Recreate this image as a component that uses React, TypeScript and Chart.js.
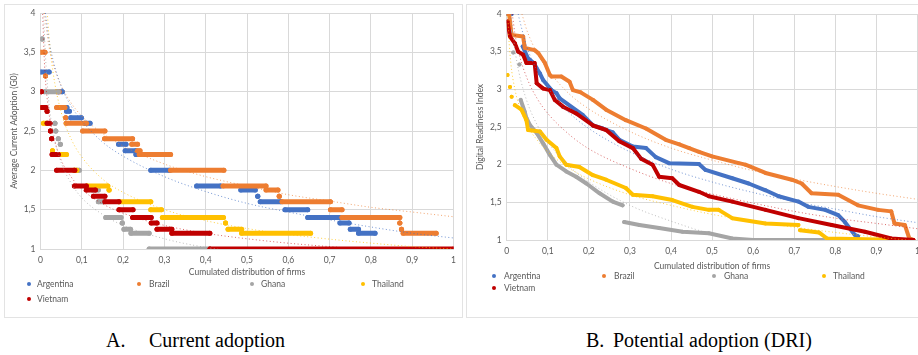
import React, { useEffect, useRef } from 'react';
import { Chart, registerables } from 'chart.js';

Chart.register(...registerables);

// ---------- labels ----------
const COUNTRIES = ['Argentina', 'Brazil', 'Ghana', 'Thailand', 'Vietnam'];
const COLORS = ['#4472C4', '#ED7D31', '#A5A5A5', '#FFC000', '#C00000'];
const TREND_COLORS = ['rgba(68,114,196,0.75)', 'rgba(237,125,49,0.7)', 'rgba(165,165,165,0.75)', 'rgba(255,192,0,0.75)', 'rgba(192,0,0,0.6)'];
const X_AXIS_TITLE = 'Cumulated distribution of firms';
const A_Y_TITLE = 'Average Current Adoption (G0)';
const B_Y_TITLE = 'Digital Readiness Index';
const CAPTION_A = ['A.', 'Current adoption'];
const CAPTION_B = ['B.', 'Potential adoption (DRI)'];

// ---------- axis ranges ----------
const X_MIN = 0;
const X_MAX = 1;
const X_STEP = 0.1;
const Y_MIN = 1;
const Y_MAX = 4;
const Y_STEP = 0.5;

// ---------- Panel A: runs of firms [cum. share start, cum. share end, value] ----------
const A_ARGENTINA: number[][] = [
  [0, 0.021, 3.25], [0.043, 0.053, 3.0], [0.06, 0.064, 2.8], [0.063, 0.07, 2.75],
  [0.073, 0.099, 2.67], [0.107, 0.12, 2.6], [0.189, 0.207, 2.33], [0.205, 0.231, 2.25],
  [0.231, 0.238, 2.2], [0.267, 0.312, 2.0], [0.378, 0.436, 1.8], [0.485, 0.52, 1.75],
  [0.526, 0.526, 1.67], [0.532, 0.582, 1.6], [0.592, 0.647, 1.5], [0.647, 0.724, 1.4],
  [0.725, 0.747, 1.33], [0.75, 0.77, 1.25], [0.77, 0.81, 1.2],
];
const A_BRAZIL: number[][] = [
  [0, 0.011, 3.5], [0.012, 0.012, 3.2], [0.039, 0.045, 3.0], [0, 0.004, 2.8],
  [0.039, 0.059, 2.8], [0.061, 0.061, 2.67], [0.062, 0.111, 2.6], [0.102, 0.156, 2.5],
  [0.155, 0.223, 2.4], [0.221, 0.235, 2.33], [0.235, 0.241, 2.25], [0.239, 0.315, 2.2],
  [0.315, 0.444, 2.0], [0.442, 0.546, 1.8], [0.546, 0.575, 1.75], [0.578, 0.578, 1.67],
  [0.585, 0.702, 1.6], [0.702, 0.73, 1.5], [0.73, 0.87, 1.4], [0.87, 0.87, 1.33],
  [0.874, 0.874, 1.25], [0.878, 0.958, 1.2],
];
const A_GHANA: number[][] = [
  [0.004, 0.004, 3.67], [0.009, 0.043, 3.0], [0.035, 0.035, 2.6], [0.037, 0.037, 2.5],
  [0.043, 0.043, 2.4], [0.048, 0.048, 2.33], [0.088, 0.094, 2.0], [0.126, 0.14, 1.75],
  [0.14, 0.152, 1.6], [0.158, 0.195, 1.4], [0.198, 0.198, 1.33], [0.202, 0.218, 1.25],
  [0.219, 0.263, 1.2], [0.263, 0.41, 1.0],
];
const A_THAILAND: number[][] = [
  [0.007, 0.015, 2.6], [0.029, 0.029, 2.25], [0.043, 0.063, 2.2], [0.081, 0.088, 2.0],
  [0.113, 0.163, 1.8], [0.166, 0.166, 1.75], [0.19, 0.267, 1.6], [0.267, 0.293, 1.5],
  [0.295, 0.443, 1.4], [0.448, 0.448, 1.33], [0.454, 0.487, 1.25], [0.487, 0.654, 1.2],
];
const A_VIETNAM: number[][] = [
  [0.002, 0.002, 3.0], [0.003, 0.013, 2.8], [0.016, 0.016, 2.75], [0.016, 0.023, 2.6],
  [0.024, 0.024, 2.5], [0.027, 0.027, 2.4], [0.028, 0.043, 2.2], [0.039, 0.083, 2.0],
  [0.082, 0.111, 1.8], [0.111, 0.133, 1.75], [0.128, 0.156, 1.67], [0.156, 0.19, 1.6],
  [0.19, 0.224, 1.5], [0.223, 0.268, 1.4], [0.268, 0.282, 1.33], [0.282, 0.318, 1.25],
  [0.318, 0.41, 1.2], [0.41, 1.0, 1.0],
];

// ---------- Panel A: trend lines [x, y] ----------
const A_TREND_ARGENTINA: number[][] = [
  [0.012, 4.0], [0.02, 3.67], [0.03, 3.41], [0.05, 3.07], [0.075, 2.81], [0.1, 2.63],
  [0.15, 2.36], [0.2, 2.18], [0.3, 1.92], [0.4, 1.73], [0.5, 1.58], [0.6, 1.47],
  [0.7, 1.37], [0.8, 1.28], [0.9, 1.2], [1.0, 1.14],
];
const A_TREND_BRAZIL: number[][] = [
  [0.0096, 4.0], [0.02, 3.59], [0.03, 3.36], [0.05, 3.08], [0.075, 2.85], [0.1, 2.69],
  [0.15, 2.47], [0.2, 2.31], [0.3, 2.08], [0.4, 1.92], [0.5, 1.8], [0.6, 1.69],
  [0.7, 1.61], [0.8, 1.53], [0.9, 1.47], [1.0, 1.41],
];
const A_TREND_GHANA: number[][] = [
  [0.0078, 4.0], [0.01, 3.67], [0.02, 2.88], [0.03, 2.51], [0.05, 2.1], [0.075, 1.83],
  [0.1, 1.65], [0.15, 1.44], [0.2, 1.3], [0.3, 1.13], [0.4, 1.02], [0.5, 0.95],
];
const A_TREND_THAILAND: number[][] = [
  [0.017, 3.96], [0.02, 3.74], [0.03, 3.26], [0.05, 2.74], [0.075, 2.39], [0.1, 2.17],
  [0.15, 1.89], [0.2, 1.72], [0.3, 1.5], [0.4, 1.36], [0.5, 1.26], [0.6, 1.185],
  [0.7, 1.125], [0.8, 1.075], [0.9, 1.03], [1.0, 1.0],
];
const A_TREND_VIETNAM: number[][] = [
  [0.005, 4.03], [0.01, 3.32], [0.02, 2.75], [0.03, 2.46], [0.05, 2.13], [0.075, 1.91],
  [0.1, 1.76], [0.15, 1.575], [0.2, 1.455], [0.3, 1.3], [0.4, 1.2], [0.5, 1.13],
  [0.6, 1.074], [0.7, 1.03], [0.8, 0.99],
];

// ---------- Panel B: firm curves [x, y] (null = gap) ----------
const B_ARGENTINA: (number[] | null)[] = [
  [0.002, 4.0], [0.012, 4.0], null,
  [0.039, 3.57], [0.052, 3.41], [0.066, 3.35], [0.073, 3.28], [0.081, 3.21], [0.089, 3.12],
  [0.109, 2.99], [0.121, 2.95], [0.129, 2.88], [0.185, 2.66], [0.21, 2.52], [0.234, 2.48],
  [0.258, 2.43], [0.274, 2.33], [0.307, 2.24], [0.339, 2.22], [0.363, 2.1], [0.395, 2.02],
  [0.468, 2.01], [0.484, 1.93], [0.549, 1.82], [0.589, 1.75], [0.63, 1.66], [0.662, 1.58],
  [0.71, 1.51], [0.734, 1.44], [0.775, 1.4], [0.807, 1.33], [0.823, 1.24], [0.847, 1.07],
  [0.855, 1.05],
];
const B_BRAZIL: (number[] | null)[] = [
  [0, 4.0], [0.006, 4.0], [0.01, 3.8], [0.012, 3.72], [0.04, 3.7], [0.044, 3.55], [0.068, 3.52],
  [0.077, 3.48], [0.093, 3.35], [0.105, 3.19], [0.109, 3.17], [0.133, 3.17], [0.153, 3.1],
  [0.161, 2.99], [0.18, 2.96], [0.21, 2.86], [0.242, 2.73], [0.29, 2.59], [0.339, 2.48],
  [0.387, 2.33], [0.42, 2.27], [0.444, 2.22], [0.468, 2.17], [0.5, 2.11], [0.565, 2.02],
  [0.581, 2.0], [0.63, 1.89], [0.694, 1.8], [0.718, 1.75], [0.742, 1.62], [0.807, 1.6],
  [0.855, 1.46], [0.904, 1.4], [0.936, 1.38], [0.944, 1.22], [0.969, 1.2], [0.98, 1.02],
  [0.99, 1.0],
];
const B_GHANA: (number[] | null)[] = [
  [0.008, 3.77], null, [0.016, 3.49], null, [0.031, 3.33], null,
  [0.034, 2.86], [0.044, 2.7], [0.048, 2.62], [0.056, 2.53], [0.073, 2.42], [0.089, 2.28],
  [0.105, 2.13], [0.121, 2.0], [0.145, 1.91], [0.169, 1.84], [0.194, 1.75], [0.226, 1.62],
  [0.258, 1.51], [0.282, 1.46], null,
  [0.286, 1.24], [0.323, 1.2], [0.371, 1.16], [0.428, 1.11], [0.492, 1.09], [0.549, 1.02],
  [0.6, 1.0], [0.77, 1.0],
];
const B_THAILAND: (number[] | null)[] = [
  [0.002, 3.19], null, [0.008, 3.03], null, [0.012, 2.9], null,
  [0.02, 2.79], [0.036, 2.73], [0.048, 2.59], [0.052, 2.46], [0.081, 2.44], [0.097, 2.33],
  [0.121, 2.22], [0.129, 2.11], [0.145, 2.0], [0.177, 1.97], [0.21, 1.86], [0.242, 1.8],
  [0.29, 1.69], [0.307, 1.6], [0.355, 1.58], [0.403, 1.53], [0.452, 1.44], [0.492, 1.4],
  [0.516, 1.4], [0.549, 1.29], [0.63, 1.22], [0.71, 1.2], null,
  [0.714, 1.13], [0.76, 1.1], [0.78, 1.02], [0.97, 1.0],
];
const B_VIETNAM: (number[] | null)[] = [
  [0.002, 3.9], [0.008, 3.7], [0.02, 3.61], [0.028, 3.5], [0.04, 3.46], [0.048, 3.35],
  [0.068, 3.35], [0.073, 3.08], [0.089, 3.01], [0.105, 2.99], [0.117, 2.86], [0.137, 2.77],
  [0.169, 2.68], [0.21, 2.52], [0.242, 2.46], [0.274, 2.31], [0.307, 2.22], [0.327, 2.08],
  [0.355, 2.0], [0.371, 1.84], [0.403, 1.82], [0.42, 1.73], [0.468, 1.64], [0.492, 1.58],
  [0.549, 1.51], [0.63, 1.4], [0.71, 1.29], [0.791, 1.2], [0.872, 1.11], [0.936, 1.02],
  [0.99, 1.0],
];

// ---------- Panel B: trend lines [x, y] ----------
const B_TREND_ARGENTINA: number[][] = [
  [0.028, 4.0], [0.03, 3.95], [0.05, 3.55], [0.075, 3.24], [0.1, 3.02], [0.15, 2.7],
  [0.2, 2.48], [0.3, 2.17], [0.4, 1.94], [0.5, 1.77], [0.6, 1.63], [0.7, 1.51],
  [0.8, 1.41], [0.9, 1.31], [1.0, 1.23],
];
const B_TREND_BRAZIL: number[][] = [
  [0.037, 4.0], [0.05, 3.77], [0.075, 3.47], [0.1, 3.26], [0.15, 2.95], [0.2, 2.74],
  [0.3, 2.44], [0.4, 2.22], [0.5, 2.06], [0.6, 1.92], [0.7, 1.81], [0.8, 1.71],
  [0.9, 1.62], [1.0, 1.54],
];
const B_TREND_GHANA: number[][] = [
  [0.011, 3.99], [0.02, 3.53], [0.03, 3.22], [0.05, 2.83], [0.075, 2.52], [0.1, 2.3],
  [0.15, 1.99], [0.2, 1.77], [0.3, 1.46], [0.4, 1.25], [0.5, 1.075], [0.6, 0.94],
];
const B_TREND_THAILAND: number[][] = [
  [0.003, 3.97], [0.005, 3.71], [0.01, 3.35], [0.02, 3.0], [0.03, 2.79], [0.05, 2.52],
  [0.075, 2.32], [0.1, 2.17], [0.15, 1.96], [0.2, 1.81], [0.3, 1.6], [0.4, 1.46],
  [0.5, 1.34], [0.6, 1.25], [0.7, 1.17], [0.8, 1.1], [0.9, 1.04], [1.0, 0.985],
];
const B_TREND_VIETNAM: number[][] = [
  [0.0137, 4.0], [0.02, 3.74], [0.03, 3.47], [0.05, 3.14], [0.075, 2.87], [0.1, 2.68],
  [0.15, 2.41], [0.2, 2.21], [0.3, 1.95], [0.4, 1.75], [0.5, 1.61], [0.6, 1.49],
  [0.7, 1.38], [0.8, 1.29], [0.9, 1.22], [1.0, 1.15],
];

// ---------- helpers ----------
const TEXT_COLOR = '#595959';
const GRID_COLOR = '#d9d9d9';
const UI_FONT = 'Lato, "Noto Sans", sans-serif';

function fmt(v: number | string) {
  const r = Math.round(Number(v) * 10) / 10;
  return String(r).replace('.', ',');
}

function segsToData(segs: number[][]) {
  const d: { x: number; y: number | null }[] = [];
  segs.forEach(([a, b, v]) => {
    d.push({ x: a, y: v });
    d.push({ x: b, y: v });
    d.push({ x: b, y: null });
  });
  return d;
}

function ptsToData(pts: (number[] | null)[]) {
  const d: { x: number; y: number | null }[] = [];
  let lastX = 0;
  pts.forEach((p) => {
    if (p) {
      d.push({ x: p[0], y: p[1] });
      lastX = p[0];
    } else {
      d.push({ x: lastX, y: null });
    }
  });
  return d;
}

function seriesDataset(i: number, data: any[], width: number) {
  return {
    label: COUNTRIES[i],
    data,
    borderColor: COLORS[i],
    backgroundColor: COLORS[i],
    borderWidth: width,
    borderCapStyle: 'round',
    borderJoinStyle: 'round',
    pointRadius: width / 2,
    pointBorderWidth: 0,
    pointHoverRadius: 0,
    spanGaps: false,
    order: 6 - i,
  };
}

function trendDataset(i: number, pts: number[][]) {
  return {
    label: COUNTRIES[i] + ' trend',
    data: pts.map(([x, y]) => ({ x, y })),
    borderColor: TREND_COLORS[i],
    borderWidth: 1,
    borderDash: [1, 2.5],
    pointRadius: 0,
    pointHoverRadius: 0,
    tension: 0.4,
    cubicInterpolationMode: 'monotone',
    order: 0,
  };
}

type Geo = {
  left: number; w: number; h: number; yW: number; xH: number; top: number; padRight: number;
  xTitlePad: number; yTitlePad: number;
};

function PanelChart({ datasets, yTitle, g }: { datasets: any[]; yTitle: string; g: Geo }) {
  const ref = useRef<HTMLCanvasElement>(null);
  useEffect(() => {
    const font = { family: UI_FONT, size: 8.5 };
    const chart = new Chart(ref.current as HTMLCanvasElement, {
      type: 'line',
      data: { datasets },
      options: {
        animation: false,
        responsive: false,
        maintainAspectRatio: false,
        events: [],
        layout: { padding: { left: 0, right: g.padRight, top: g.top, bottom: 0 } },
        plugins: { legend: { display: false }, tooltip: { enabled: false } },
        scales: {
          x: {
            type: 'linear',
            min: X_MIN,
            max: X_MAX,
            ticks: {
              stepSize: X_STEP, autoSkip: false, maxRotation: 0, padding: 6,
              color: TEXT_COLOR, font, callback: (v: any) => fmt(v),
            },
            grid: { color: GRID_COLOR, drawTicks: false, lineWidth: 1 },
            border: { color: GRID_COLOR },
            title: {
              display: true, text: X_AXIS_TITLE, color: TEXT_COLOR, font,
              padding: { top: 0, bottom: g.xTitlePad },
            },
            afterFit: (s: any) => { s.height = g.xH; },
          },
          y: {
            type: 'linear',
            min: Y_MIN,
            max: Y_MAX,
            ticks: {
              stepSize: Y_STEP, autoSkip: false, padding: 5,
              color: TEXT_COLOR, font, callback: (v: any) => fmt(v),
            },
            grid: { color: GRID_COLOR, drawTicks: false, lineWidth: 1 },
            border: { color: GRID_COLOR },
            title: {
              display: true, text: yTitle, color: TEXT_COLOR, font,
              padding: { top: g.yTitlePad, bottom: 0 },
            },
            afterFit: (s: any) => { s.width = g.yW; },
          },
        },
      } as any,
    });
    return () => chart.destroy();
  }, []);
  return (
    <canvas
      ref={ref}
      width={g.w}
      height={g.h}
      style={{ position: 'absolute', left: g.left, top: 0, width: g.w, height: g.h }}
    />
  );
}

function Legend({ rows }: { rows: { x: number; tx: number; y: number; i: number }[] }) {
  return (
    <>
      {rows.map((r) => (
        <React.Fragment key={r.i}>
          <div
            style={{
              position: 'absolute', left: r.x - 2, top: r.y - 2, width: 4, height: 4,
              borderRadius: '50%', background: COLORS[r.i],
            }}
          />
          <div
            style={{
              position: 'absolute', left: r.tx, top: r.y - 6, height: 12, lineHeight: '12px',
              fontFamily: UI_FONT, fontSize: 8.5, color: TEXT_COLOR, whiteSpace: 'nowrap',
            }}
          >
            {COUNTRIES[r.i]}
          </div>
        </React.Fragment>
      ))}
    </>
  );
}

export default function App() {
  const dsA = [
    ...[A_ARGENTINA, A_BRAZIL, A_GHANA, A_THAILAND, A_VIETNAM].map((s, i) => seriesDataset(i, segsToData(s), 5)),
    ...[A_TREND_ARGENTINA, A_TREND_BRAZIL, A_TREND_GHANA, A_TREND_THAILAND, A_TREND_VIETNAM].map((t, i) => trendDataset(i, t)),
  ];
  const dsB = [
    ...[B_ARGENTINA, B_BRAZIL, B_GHANA, B_THAILAND, B_VIETNAM].map((s, i) => seriesDataset(i, ptsToData(s), 4)),
    ...[B_TREND_ARGENTINA, B_TREND_BRAZIL, B_TREND_GHANA, B_TREND_THAILAND, B_TREND_VIETNAM].map((t, i) => trendDataset(i, t)),
  ];
  const geoA: Geo = { left: 0, w: 462, h: 310, yW: 40.5, xH: 61, top: 13, padRight: 4.5, xTitlePad: 32.9, yTitlePad: 8.9 };
  const geoB: Geo = { left: 466, w: 460, h: 310, yW: 40.7, xH: 70, top: 14, padRight: 6, xTitlePad: 38.9, yTitlePad: 9.6 };

  const capStyle: React.CSSProperties = {
    position: 'absolute', top: 329, fontFamily: '"Liberation Serif", "Times New Roman", serif',
    fontSize: 20, lineHeight: '23px', color: '#000', whiteSpace: 'nowrap',
  };

  return (
    <div style={{ position: 'absolute', left: 0, top: 0, width: 918, height: 355, overflow: 'hidden', background: '#fff' }}>
      <div style={{ position: 'absolute', left: 4, top: 4, width: 457, height: 312, border: '1px solid #e3e3e3' }} />
      <div style={{ position: 'absolute', left: 466, top: 4, width: 470, height: 312, border: '1px solid #e3e3e3' }} />
      <PanelChart datasets={dsA} yTitle={A_Y_TITLE} g={geoA} />
      <PanelChart datasets={dsB} yTitle={B_Y_TITLE} g={geoB} />
      <Legend
        rows={[
          { i: 0, x: 29, tx: 37, y: 284 }, { i: 1, x: 139, tx: 149, y: 284 },
          { i: 2, x: 252, tx: 261, y: 284 }, { i: 3, x: 363, tx: 372, y: 284 },
          { i: 4, x: 29, tx: 37, y: 299 },
        ]}
      />
      <Legend
        rows={[
          { i: 0, x: 494, tx: 504, y: 276 }, { i: 1, x: 604, tx: 614, y: 276 },
          { i: 2, x: 714, tx: 724, y: 276 }, { i: 3, x: 824, tx: 833, y: 276 },
          { i: 4, x: 494, tx: 504, y: 288 },
        ]}
      />
      <span style={{ ...capStyle, left: 106 }}>{CAPTION_A[0]}</span>
      <span style={{ ...capStyle, left: 149 }}>{CAPTION_A[1]}</span>
      <span style={{ ...capStyle, left: 586 }}>{CAPTION_B[0]}</span>
      <span style={{ ...capStyle, left: 613 }}>{CAPTION_B[1]}</span>
    </div>
  );
}
